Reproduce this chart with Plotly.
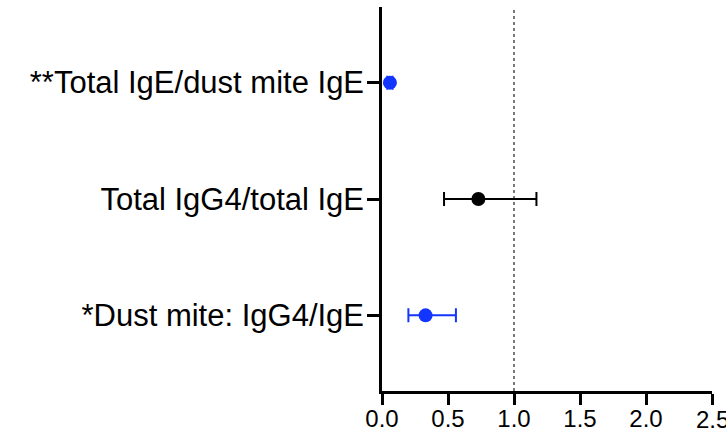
import plotly.graph_objects as go

labels = ["*Dust mite: IgG4/IgE", "Total IgG4/total IgE", "**Total IgE/dust mite IgE"]
positions = [1, 2, 3]
estimate = [0.33, 0.73, 0.06]
ci_low = [0.20, 0.47, 0.04]
ci_high = [0.56, 1.17, 0.08]
colors = ["#1236ff", "#000000", "#1236ff"]
xticks = [0, 0.5, 1.0, 1.5, 2.0, 2.5]

fig = go.Figure()

for i in range(len(labels)):
    fig.add_trace(
        go.Scatter(
            x=[estimate[i]],
            y=[positions[i]],
            mode="markers",
            marker=dict(color=colors[i], size=14),
            error_x=dict(
                type="data",
                symmetric=False,
                array=[ci_high[i] - estimate[i]],
                arrayminus=[estimate[i] - ci_low[i]],
                color=colors[i],
                thickness=2,
                width=7,
            ),
            showlegend=False,
        )
    )

# reference line at ratio 1
fig.add_shape(
    type="line",
    x0=1, x1=1, y0=0.35, y1=3.65,
    xref="x", yref="y",
    line=dict(color="#222222", width=1.2, dash="dot"),
    layer="below",
)

# last tick label sits at the page edge, plotly drops it, so draw it by hand
fig.add_annotation(
    x=xticks[-1], y=0, xref="x", yref="paper",
    text=f"{xticks[-1]:.1f}", showarrow=False,
    yanchor="top", yshift=-13,
    font=dict(size=24),
)

fig.update_layout(
    width=726,
    height=439,
    margin=dict(l=382, r=14, t=7, b=48),
    plot_bgcolor="white",
    paper_bgcolor="white",
    font=dict(family="Liberation Sans, Arial", color="black", size=24),
    xaxis=dict(
        range=[0, 2.5],
        tickvals=xticks,
        ticktext=[f"{v:.1f}" for v in xticks],
        showgrid=False,
        zeroline=False,
        showline=True,
        linecolor="black",
        linewidth=2.5,
        ticks="outside",
        ticklen=11,
        tickwidth=2.5,
        tickcolor="black",
        tickfont=dict(size=24),
        ticklabelstandoff=-7,
        automargin=False,
    ),
    yaxis=dict(
        range=[0.35, 3.65],
        tickvals=positions,
        ticktext=labels,
        showgrid=False,
        zeroline=False,
        showline=True,
        linecolor="black",
        linewidth=2.5,
        ticks="outside",
        ticklen=12,
        tickwidth=2.5,
        tickcolor="black",
        tickfont=dict(size=31),
        ticklabelstandoff=-3,
        automargin=False,
    ),
)

fig.write_html(
    "out.html",
    config={"displayModeBar": False},
    post_script="document.body.style.margin='0';",
)
